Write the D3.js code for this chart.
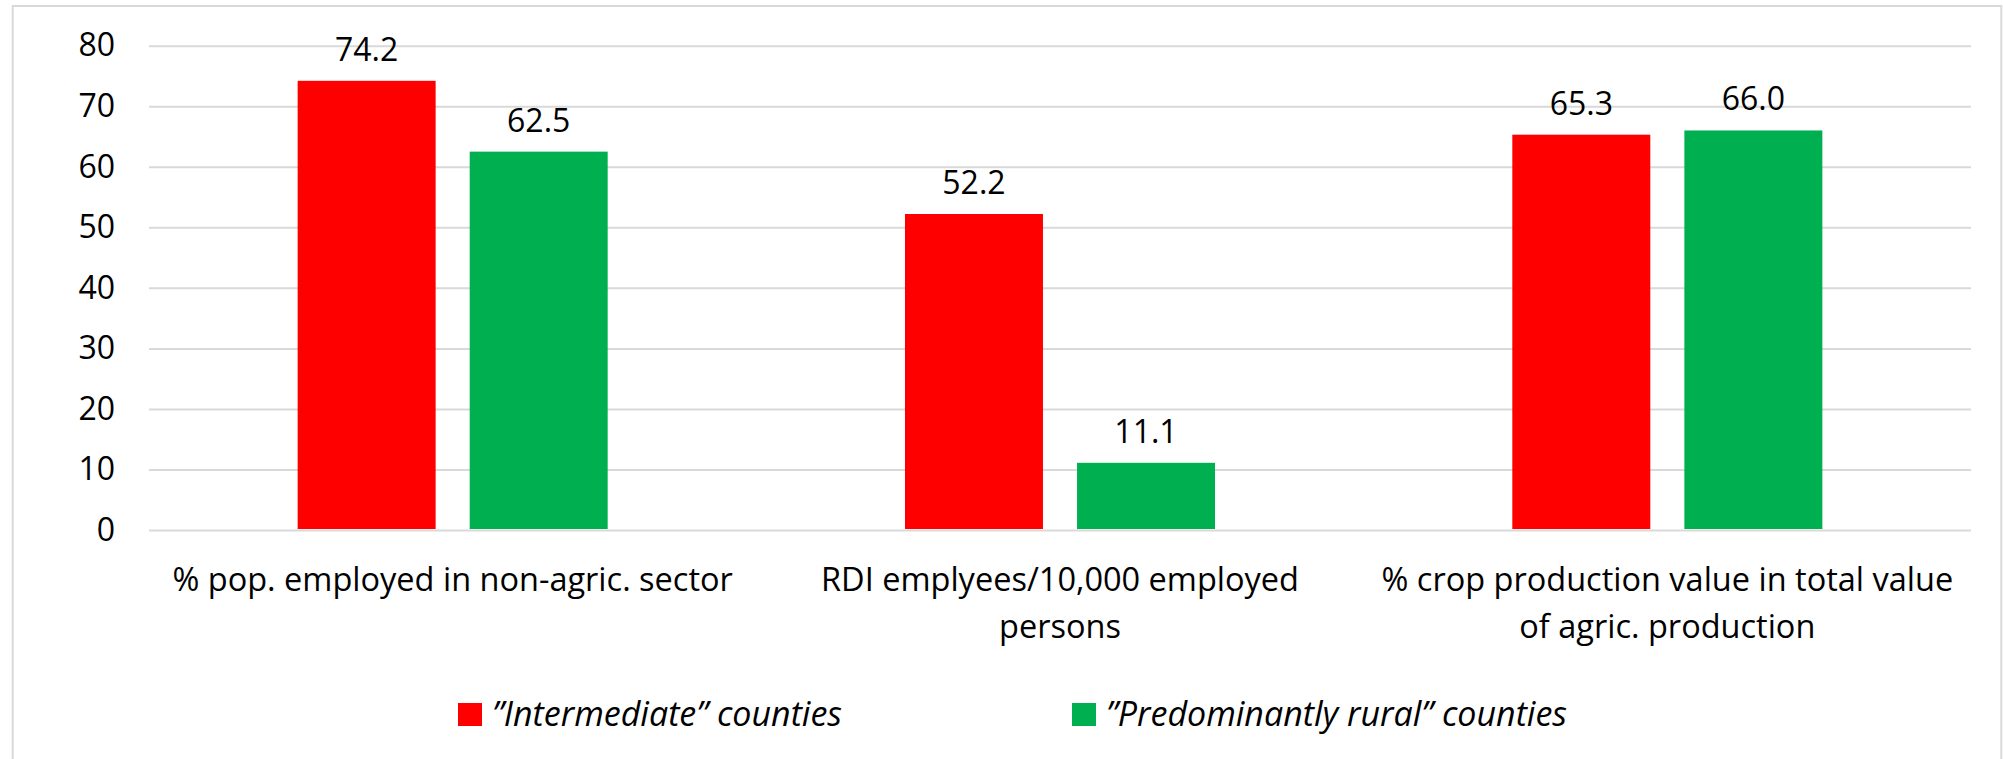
<!DOCTYPE html>
<html>
<head>
<meta charset="utf-8">
<script src="https://cdn.jsdelivr.net/npm/d3@7"></script>
<style>
  body { margin: 0; background: #fff; }
  text { font-family: "Open Sans", Lato, sans-serif; fill: #000; }
</style>
</head>
<body>
<script>
// data
var categories = ['pop', 'rdi', 'crop'];
var categoryLines = [
  ['% pop. employed in non-agric. sector'],
  ['RDI emplyees/10,000 employed', 'persons'],
  ['% crop production value in total value', 'of agric. production']
];
var seriesKeys = ['intermediate', 'rural'];
var seriesNames = ['\u201DIntermediate\u201D counties', '\u201DPredominantly rural\u201D counties'];
var seriesColors = ['#FF0000', '#00B050'];
var intermediate = [74.2, 52.2, 65.3];
var rural = [62.5, 11.1, 66.0];
var yTicks = [0, 10, 20, 30, 40, 50, 60, 70, 80];

var width = 2003, height = 759;
var plot = {left: 149, right: 1971, top: 45.7, bottom: 530};
var fontSize = 32, catFontSize = 32.5, legendFontSize = 34;

var rows = categories.map(function(c, i) {
  return {cat: c, lines: categoryLines[i], values: [
    {key: 'intermediate', value: intermediate[i]},
    {key: 'rural', value: rural[i]}
  ]};
});

var svg = d3.select('body')
  .append('svg')
  .attr('width', width)
  .attr('height', height);

// chart frame (bottom edge falls outside the picture)
svg.append('rect')
  .attr('x', 12.7)
  .attr('y', 6)
  .attr('width', 2001.3 - 12.7)
  .attr('height', 800)
  .attr('fill', 'none')
  .attr('stroke', '#d9d9d9')
  .attr('stroke-width', 2);

var y = d3.scaleLinear().domain([0, 80]).range([plot.bottom, plot.top]);

var x0 = d3.scaleBand()
  .domain(categories)
  .range([plot.left, plot.right]);

var x1 = d3.scaleBand()
  .domain(seriesKeys)
  .range([0, x0.bandwidth()])
  .paddingInner(0.198)
  .paddingOuter(0.864);

var color = d3.scaleOrdinal().domain(seriesKeys).range(seriesColors);

// gridlines
var grid = svg.append('g')
  .attr('transform', 'translate(' + plot.left + ',0)')
  .call(d3.axisLeft(y).tickValues(yTicks).tickSize(-(plot.right - plot.left)).tickFormat(''));
grid.select('.domain').remove();
grid.selectAll('line').attr('stroke', '#d9d9d9').attr('stroke-width', 2);

// y axis labels
var yAxis = svg.append('g')
  .attr('transform', 'translate(' + plot.left + ',0)')
  .call(d3.axisLeft(y).tickValues(yTicks).tickSize(0).tickPadding(34));
yAxis.select('.domain').remove();
yAxis.selectAll('text')
  .style('font-size', fontSize + 'px')
  .style('font-family', '"Open Sans", Lato, sans-serif')
  .attr('fill', '#000');

// bars
var groups = svg.append('g')
  .selectAll('g')
  .data(rows)
  .enter()
  .append('g')
  .attr('transform', function(d) { return 'translate(' + x0(d.cat) + ',0)'; });

groups.selectAll('rect')
  .data(function(d) { return d.values; })
  .enter()
  .append('rect')
  .attr('x', function(d) { return x1(d.key); })
  .attr('y', function(d) { return y(d.value); })
  .attr('width', x1.bandwidth())
  .attr('height', function(d) { return y(0) - y(d.value) - 1; })
  .attr('fill', function(d) { return color(d.key); });

groups.selectAll('text.value')
  .data(function(d) { return d.values; })
  .enter()
  .append('text')
  .attr('class', 'value')
  .attr('x', function(d) { return x1(d.key) + x1.bandwidth() / 2; })
  .attr('y', function(d) { return y(d.value) - 20; })
  .attr('text-anchor', 'middle')
  .style('font-size', fontSize + 'px')
  .text(function(d) { return d3.format('.1f')(d.value); });

// category labels
var catLabels = svg.append('g')
  .selectAll('text')
  .data(rows)
  .enter()
  .append('text')
  .attr('x', function(d) { return x0(d.cat) + x0.bandwidth() / 2; })
  .attr('y', 591)
  .attr('text-anchor', 'middle')
  .style('font-size', catFontSize + 'px');

catLabels.selectAll('tspan')
  .data(function(d) { return d.lines; })
  .enter()
  .append('tspan')
  .attr('x', function() { return d3.select(this.parentNode).attr('x'); })
  .attr('dy', function(d, i) { return i === 0 ? 0 : 47; })
  .text(function(d) { return d; });

// legend
var legendX = [458, 1072];
var legend = svg.append('g')
  .selectAll('g')
  .data(seriesKeys)
  .enter()
  .append('g')
  .attr('transform', function(d, i) { return 'translate(' + legendX[i] + ',703)'; });

legend.append('rect')
  .attr('width', 24)
  .attr('height', 23)
  .attr('fill', function(d) { return color(d); });

legend.append('text')
  .attr('x', 34)
  .attr('y', 23)
  .style('font-size', legendFontSize + 'px')
  .style('font-style', 'italic')
  .text(function(d, i) { return seriesNames[i]; });
</script>
</body>
</html>
